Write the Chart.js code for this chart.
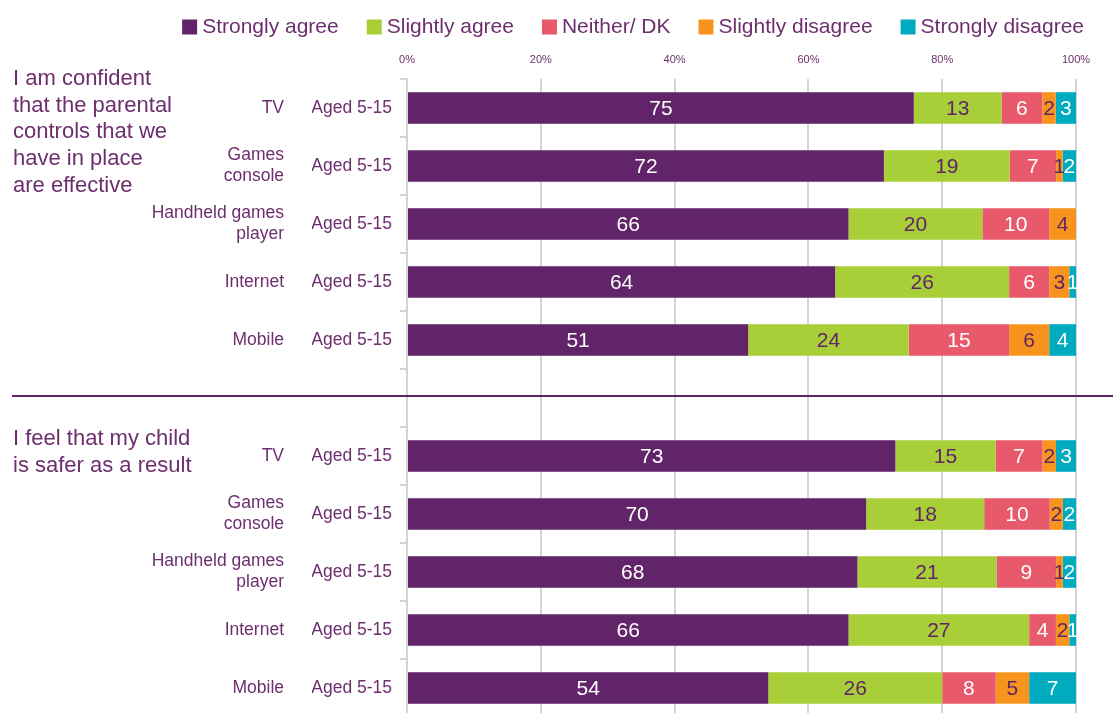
<!DOCTYPE html>
<html>
<head>
<meta charset="utf-8">
<script src="https://cdn.jsdelivr.net/npm/chart.js@4.4.0/dist/chart.umd.min.js"></script>
<style>
  html, body { margin: 0; padding: 0; overflow: hidden; background: #fff; }
  canvas { display: block; }
</style>
</head>
<body>
<canvas id="myChart" width="1113" height="720"></canvas>
<script>
// rows: five devices per statement, with an empty row between the two statements
let devices = ['TV', ['Games', 'console'], ['Handheld games', 'player'], 'Internet', 'Mobile', '',
    'TV', ['Games', 'console'], ['Handheld games', 'player'], 'Internet', 'Mobile'];
let ages = ['Aged 5-15', 'Aged 5-15', 'Aged 5-15', 'Aged 5-15', 'Aged 5-15', '',
    'Aged 5-15', 'Aged 5-15', 'Aged 5-15', 'Aged 5-15', 'Aged 5-15'];

let stronglyAgree = [75, 72, 66, 64, 51, null, 73, 70, 68, 66, 54];
let slightlyAgree = [13, 19, 20, 26, 24, null, 15, 18, 21, 27, 26];
let neither = [6, 7, 10, 6, 15, null, 7, 10, 9, 4, 8];
let slightlyDisagree = [2, 1, 4, 3, 6, null, 2, 2, 1, 2, 5];
let stronglyDisagree = [3, 2, 0, 1, 4, null, 3, 2, 2, 1, 7];

let seriesNames = ['Strongly agree', 'Slightly agree', 'Neither/ DK', 'Slightly disagree', 'Strongly disagree'];
let seriesColours = ['#612468', '#a8ce38', '#e8596b', '#f7941e', '#00abc0'];
let valueColours = ['#ffffff', '#612468', '#ffffff', '#612468', '#ffffff'];

let xTicks = [0, 20, 40, 60, 80, 100];

let statements = [
    ['I am confident', 'that the parental', 'controls that we', 'have in place', 'are effective'],
    ['I feel that my child', 'is safer as a result']
];

let textColour = '#6d2e6e';
let gridColour = '#d4d4d4';
let fontFamily = '"Liberation Sans", Arial, sans-serif';

Chart.defaults.font.family = fontFamily;
Chart.defaults.color = textColour;

let allSeries = [stronglyAgree, slightlyAgree, neither, slightlyDisagree, stronglyDisagree];

// each row is stretched to 100% of its own total
let rowTotals = ages.map((a, i) => allSeries.reduce((sum, s) => sum + (s[i] || 0), 0));

let datasets = allSeries.map((values, d) => ({
    label: seriesNames[d],
    values: values,
    data: values.map((v, i) => v == null ? null : v / rowTotals[i] * 100),
    backgroundColor: seriesColours[d],
    borderWidth: 0,
    categoryPercentage: 1,
    barPercentage: 0.545
}));

let valueLabels = {
    id: 'valueLabels',
    afterDatasetsDraw(chart) {
        let ctx = chart.ctx;
        ctx.save();
        ctx.font = '21px ' + fontFamily;
        ctx.textAlign = 'center';
        ctx.textBaseline = 'middle';
        chart.data.datasets.forEach((dataset, d) => {
            chart.getDatasetMeta(d).data.forEach((bar, i) => {
                let v = dataset.values[i];
                if (!v) return;
                ctx.fillStyle = valueColours[d];
                ctx.fillText(v, (bar.base + bar.x) / 2, bar.y + 1);
            });
        });
        ctx.restore();
    }
};

// legend row, right aligned above the axis
let keyRow = {
    id: 'keyRow',
    afterDraw(chart) {
        let ctx = chart.ctx;
        ctx.save();
        ctx.font = '21px ' + fontFamily;
        ctx.textBaseline = 'middle';
        ctx.textAlign = 'left';
        let box = 15, gap = 5, spacing = 28, rowY = 27;
        let widths = chart.data.datasets.map(ds => box + gap + ctx.measureText(ds.label).width);
        let x = 1084 - widths.reduce((a, b) => a + b, 0) - spacing * (widths.length - 1);
        chart.data.datasets.forEach((ds, d) => {
            ctx.fillStyle = ds.backgroundColor;
            ctx.fillRect(x, rowY - box / 2, box, box);
            ctx.fillStyle = textColour;
            ctx.fillText(ds.label, x + box + gap, rowY);
            x += widths[d] + spacing;
        });
        ctx.restore();
    }
};

let sideNotes = {
    id: 'sideNotes',
    afterDraw(chart) {
        let ctx = chart.ctx;
        let y = chart.scales.y;
        ctx.save();

        // divider between the two statements
        let gapY = y.getPixelForValue(5) - 2;
        ctx.strokeStyle = '#5e2462';
        ctx.lineWidth = 2;
        ctx.beginPath();
        ctx.moveTo(12, gapY);
        ctx.lineTo(chart.width, gapY);
        ctx.stroke();

        ctx.font = '22px ' + fontFamily;
        ctx.fillStyle = textColour;
        ctx.textAlign = 'left';
        ctx.textBaseline = 'middle';
        let firstTop = y.getPixelForValue(0) - 29;
        statements[0].forEach((line, k) => ctx.fillText(line, 13, firstTop + k * 26.7));
        let secondTop = y.getPixelForValue(6) - 17;
        statements[1].forEach((line, k) => ctx.fillText(line, 13, secondTop + k * 26.5));

        ctx.restore();
    }
};

let ctx = document.getElementById('myChart').getContext('2d');

let myChart = new Chart(ctx, {
    type: 'bar',
    data: {
        labels: ages,
        datasets: datasets
    },
    options: {
        indexAxis: 'y',
        responsive: false,
        animation: false,
        layout: {
            padding: { top: 46, right: 13, bottom: 3, left: 0 }
        },
        plugins: {
            tooltip: { enabled: false },
            legend: { display: false }
        },
        scales: {
            x: {
                type: 'linear',
                position: 'top',
                stacked: true,
                min: 0,
                max: 100,
                grid: { color: gridColour, lineWidth: 2, drawTicks: false },
                border: { display: false },
                ticks: {
                    color: textColour,
                    font: { size: 11 },
                    padding: 12,
                    callback: v => v + '%'
                },
                afterBuildTicks: s => { s.ticks = xTicks.map(v => ({ value: v })); },
                afterFit: s => { s.height = 33; s.paddingRight = 37; }
            },
            y: {
                type: 'category',
                position: 'left',
                stacked: true,
                weight: 0,
                offset: true,
                grid: { drawOnChartArea: false, color: gridColour, lineWidth: 2, tickLength: 7, offset: true },
                border: { color: gridColour, width: 2 },
                ticks: { color: textColour, font: { size: 17.5 }, padding: 8, autoSkip: false },
                afterFit: s => { s.width = 95; s.paddingTop = 0; s.paddingBottom = 0; }
            },
            yDevice: {
                type: 'category',
                labels: devices,
                position: 'left',
                weight: 1,
                offset: true,
                grid: { display: false, drawTicks: false, offset: true },
                border: { display: false },
                ticks: { color: textColour, font: { size: 17.5, lineHeight: 1.2 }, padding: 28, autoSkip: false },
                afterFit: s => { s.width = 312; s.paddingTop = 0; s.paddingBottom = 0; }
            }
        }
    },
    plugins: [valueLabels, keyRow, sideNotes]
});
</script>
</body>
</html>
